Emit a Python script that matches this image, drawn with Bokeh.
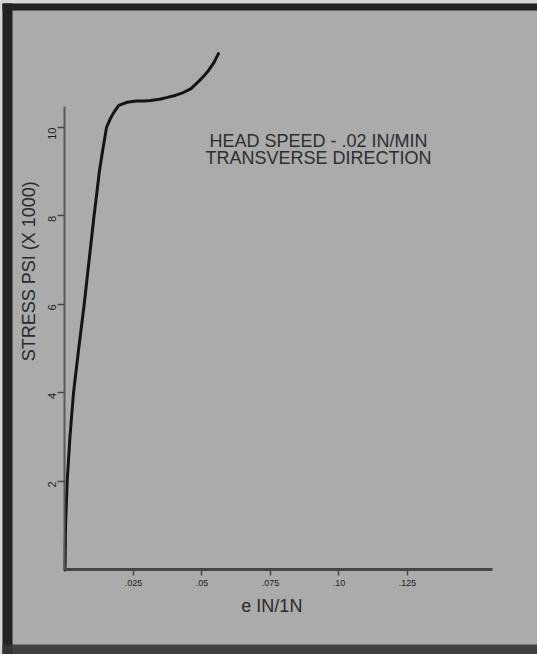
import math
from bokeh.plotting import figure
from bokeh.models import (LinearAxis, FixedTicker, Range1d, Label, BoxAnnotation)
from bokeh.embed import file_html
from bokeh.resources import INLINE

# ---- data ----
strain = [0.0, 0.0002, 0.0008, 0.0018, 0.0031, 0.0050, 0.0070, 0.0088, 0.0106,
          0.0126, 0.0138, 0.01515, 0.0164, 0.0176, 0.0196, 0.0227, 0.0260, 0.0290,
          0.0312, 0.0345, 0.0374, 0.0405, 0.0432, 0.0460, 0.0484, 0.0505, 0.0524,
          0.0543, 0.0560]
stress = [0.0, 1.0, 2.0, 3.0, 4.0, 5.0, 6.0, 7.0, 8.0,
          9.03, 9.50, 10.0, 10.18, 10.32, 10.50, 10.57, 10.60, 10.60,
          10.61, 10.64, 10.68, 10.73, 10.79, 10.88, 11.02, 11.15, 11.29,
          11.46, 11.67]

x_ticks = [0.025, 0.05, 0.075, 0.10, 0.125]
x_tick_labels = [".025", ".05", ".075", ".10", ".125"]
y_ticks = [2, 4, 6, 8, 10]
y_tick_labels = ["2", "4", "6", "8", "10"]

x_label = "e IN/1N"
y_label = "STRESS PSI (X 1000)"
note_1 = "HEAD SPEED - .02 IN/MIN"
note_2 = "TRANSVERSE DIRECTION"

BG = "#ababab"
FONT = "Liberation Sans"

p = figure(width=537, height=654, output_backend="svg", toolbar_location=None,
           x_axis_type=None, y_axis_type=None,
           x_range=Range1d(-0.02354, 0.17245), y_range=Range1d(-1.9096, 12.870),
           min_border=0, min_border_left=0, min_border_right=0,
           min_border_top=0, min_border_bottom=0)
p.background_fill_color = BG
p.border_fill_color = BG
p.outline_line_color = None
p.grid.visible = False

# scan frame (light outer edge, dark band)
p.add_layout(BoxAnnotation(right=-0.02281, fill_color="#d8d8d8", fill_alpha=1, line_alpha=0))
p.add_layout(BoxAnnotation(bottom=12.802, fill_color="#d8d8d8", fill_alpha=1, line_alpha=0))
p.add_layout(BoxAnnotation(left=-0.02281, right=-0.01916, top=12.802,
                           fill_color="#222222", fill_alpha=1, line_alpha=0))
p.add_layout(BoxAnnotation(left=-0.02281, bottom=12.644, top=12.802,
                           fill_color="#222222", fill_alpha=1, line_alpha=0))
p.add_layout(BoxAnnotation(left=-0.02281, top=-1.684,
                           fill_color="#353535", fill_alpha=0.9, line_alpha=0))

# axes
xaxis = LinearAxis(fixed_location=0, bounds=(0, 0.156),
                   ticker=FixedTicker(ticks=x_ticks))
xaxis.major_label_overrides = {t: l for t, l in zip(x_ticks, x_tick_labels)}
xaxis.axis_line_color = "#454545"
xaxis.axis_line_width = 3
xaxis.major_tick_line_color = "#484848"
xaxis.major_tick_line_width = 1.5
xaxis.major_tick_out = 6
xaxis.major_tick_in = 0
xaxis.minor_tick_out = 0
xaxis.minor_tick_in = 0
xaxis.major_label_text_font = FONT
xaxis.major_label_text_font_size = "9px"
xaxis.major_label_text_color = "#1e1e1e"
xaxis.major_label_standoff = 4
p.add_layout(xaxis, "below")

yaxis = LinearAxis(fixed_location=0, bounds=(0, 10.47),
                   ticker=FixedTicker(ticks=y_ticks))
yaxis.major_label_overrides = {t: l for t, l in zip(y_ticks, y_tick_labels)}
yaxis.axis_line_color = "#5a5a5a"
yaxis.axis_line_width = 2
yaxis.major_tick_line_color = "#484848"
yaxis.major_tick_line_width = 1.5
yaxis.major_tick_out = 7
yaxis.major_tick_in = 0
yaxis.minor_tick_out = 0
yaxis.minor_tick_in = 0
yaxis.major_label_orientation = math.pi / 2
yaxis.major_label_text_font = FONT
yaxis.major_label_text_font_size = "11px"
yaxis.major_label_text_color = "#1e1e1e"
yaxis.major_label_standoff = 6
p.add_layout(yaxis, "left")

# curve
p.line(strain, stress, line_color="#141414", line_width=3,
       line_join="round", line_cap="round")

# texts
p.add_layout(Label(x=-0.01332, y=6.75, text=y_label, angle=math.pi / 2,
                   text_align="center", text_baseline="middle",
                   text_font=FONT, text_font_size="18px", text_color="#2a2a2a"))
p.add_layout(Label(x=0.0755, y=-0.82, text=x_label,
                   text_align="center", text_baseline="middle",
                   text_font=FONT, text_font_size="18px", text_color="#2a2a2a"))
p.add_layout(Label(x=0.0925, y=9.69, text=note_1,
                   text_align="center", text_baseline="middle",
                   text_font=FONT, text_font_size="18px", text_color="#2e2e2e"))
p.add_layout(Label(x=0.0925, y=9.30, text=note_2,
                   text_align="center", text_baseline="middle",
                   text_font=FONT, text_font_size="18px", text_color="#2e2e2e"))

open("out.html", "w").write(file_html(p, INLINE))
